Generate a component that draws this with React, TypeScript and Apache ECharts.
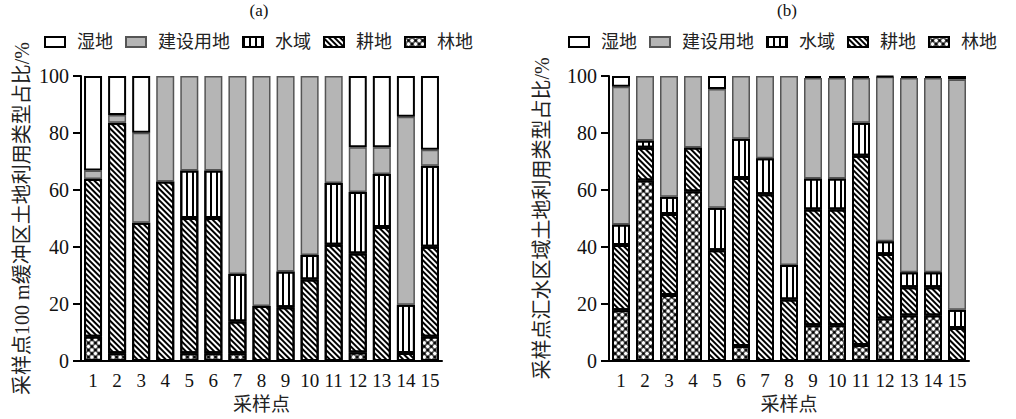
import React, { useEffect, useRef } from 'react';
import * as echarts from 'echarts';

const sites = ['1', '2', '3', '4', '5', '6', '7', '8', '9', '10', '11', '12', '13', '14', '15'];
const legendNames = ['湿地', '建设用地', '水域', '耕地', '林地'];

// (a) 100 m buffer
const forestA = [8.5, 2.7, 0, 0, 2.7, 2.7, 2.7, 0, 0, 0, 0, 3.0, 0, 0, 8.5];
const farmA = [55.4, 80.9, 48.5, 63.0, 47.5, 47.5, 11.2, 19.3, 18.9, 28.6, 40.8, 34.7, 47.0, 2.8, 31.6];
const waterA = [0, 0, 0, 0, 16.6, 16.6, 16.6, 0, 12.5, 8.6, 21.7, 21.6, 18.6, 16.9, 28.4];
const builtA = [2.9, 2.7, 31.6, 37.0, 33.2, 33.2, 69.5, 80.7, 68.6, 62.8, 37.5, 15.7, 9.4, 66.0, 5.6];
const wetA = [33.2, 13.7, 19.9, 0, 0, 0, 0, 0, 0, 0, 0, 25.0, 25.0, 14.3, 25.9];

// (b) catchment
const forestB = [17.8, 63.3, 23.2, 59.5, 0, 5.3, 0, 0, 12.5, 12.5, 5.6, 14.9, 16.0, 16.0, 0];
const farmB = [22.9, 11.5, 28.4, 15.4, 38.9, 58.9, 58.5, 21.6, 40.7, 40.7, 66.4, 22.6, 9.9, 9.9, 11.6];
const waterB = [7.2, 2.6, 6.0, 0, 14.9, 13.8, 12.6, 12.1, 10.8, 10.8, 11.6, 4.5, 5.2, 5.2, 6.4];
const builtB = [48.3, 22.6, 42.4, 25.1, 41.6, 22.0, 28.9, 66.3, 35.3, 35.3, 15.7, 57.7, 68.2, 68.2, 80.8];
const wetB = [3.8, 0, 0, 0, 4.6, 0, 0, 0, 0.7, 0.7, 0.7, 0.3, 0.7, 0.7, 1.2];

const yNames = ['采样点100 m缓冲区土地利用类型占比/%', '采样点汇水区域土地利用类型占比/%'];
const panelTitles = ['(a)', '(b)'];

const FONT = "'Liberation Serif', 'Noto Sans CJK SC', serif";

const styles: Record<string, any> = {
  湿地: { color: '#fff', borderColor: '#000', borderWidth: 2 },
  建设用地: { color: '#b5b5b5', borderColor: '#555', borderWidth: 1.5 },
  水域: {
    color: '#fff', borderColor: '#000', borderWidth: 2,
    decal: { symbol: 'rect', symbolSize: 1, color: '#000', dashArrayX: [1.6, 3.1], dashArrayY: [10, 0], rotation: 0 },
  },
  耕地: {
    color: '#fff', borderColor: '#000', borderWidth: 2,
    decal: { symbol: 'rect', symbolSize: 1, color: '#000', dashArrayX: [1, 0], dashArrayY: [1.3, 1.8], rotation: Math.PI / 4 },
  },
  林地: {
    color: '#000', borderColor: '#000', borderWidth: 2,
    decal: { symbol: 'circle', symbolSize: 0.82, color: '#fff', dashArrayX: [5, 0], dashArrayY: [5, 0], rotation: Math.PI / 4 },
  },
};

export default function App() {
  const ref = useRef<HTMLDivElement>(null);
  useEffect(() => {
    document.body.style.margin = '0';
    const chart = echarts.init(ref.current!, null, { renderer: 'svg' });
    const panels = [
      { 林地: forestA, 耕地: farmA, 水域: waterA, 建设用地: builtA, 湿地: wetA },
      { 林地: forestB, 耕地: farmB, 水域: waterB, 建设用地: builtB, 湿地: wetB },
    ];
    const stackOrder = ['林地', '耕地', '水域', '建设用地', '湿地'];
    const series: any[] = [];
    panels.forEach((p: any, i) => {
      stackOrder.forEach((name) => {
        series.push({
          type: 'bar',
          name,
          stack: 'panel' + i,
          xAxisIndex: i,
          yAxisIndex: i,
          barWidth: 18,
          data: p[name].map((v: number) => (v === 0 ? null : v)),
          itemStyle: styles[name],
          emphasis: { disabled: true },
        });
      });
    });
    const grids = [
      { left: 81, top: 76, width: 361, height: 287 },
      { left: 609, top: 76, width: 360, height: 287 },
    ];
    const option: any = {
      animation: false,
      grid: grids,
      legend: [0, 1].map((i) => ({
        data: legendNames,
        left: i === 0 ? 44 : 568,
        top: 33,
        width: 446,
        padding: 0,
        icon: 'rect',
        itemWidth: 20,
        itemHeight: 10,
        itemGap: 12,
        selectedMode: false,
        textStyle: { fontSize: 18, color: '#222', fontFamily: FONT, padding: [0, 0, 0, 7] },
      })),
      xAxis: [0, 1].map((i) => ({
        type: 'category',
        gridIndex: i,
        data: sites,
        axisLine: { lineStyle: { color: '#000', width: 2 } },
        axisTick: { alignWithLabel: true, length: 6, lineStyle: { color: '#000', width: 2 } },
        axisLabel: { interval: 0, margin: 10, fontSize: 19, color: '#111', fontFamily: FONT },
        name: '采样点',
        nameLocation: 'middle',
        nameGap: 34,
        nameTextStyle: { fontSize: 19, color: '#222', fontFamily: FONT },
      })),
      yAxis: [0, 1].map((i) => ({
        type: 'value',
        gridIndex: i,
        min: 0,
        max: 100,
        interval: 20,
        splitLine: { show: false },
        axisLine: { show: true, lineStyle: { color: '#000', width: 2 } },
        axisTick: { show: true, length: 8, lineStyle: { color: '#000', width: 2 } },
        axisLabel: { margin: 12, fontSize: 20, color: '#111', fontFamily: FONT },
        name: yNames[i],
        nameLocation: 'middle',
        nameGap: i === 0 ? 49 : 57,
        nameTextStyle: { fontSize: 20, color: '#222', fontFamily: FONT },
      })),
      graphic: panelTitles.map((t, i) => ({
        type: 'text',
        x: i === 0 ? 259 : 787,
        y: 10,
        style: { text: t, fontSize: 17, fontFamily: FONT, fill: '#111', textAlign: 'center', textVerticalAlign: 'middle' },
      })),
      series,
    };
    chart.setOption(option);
    return () => chart.dispose();
  }, []);
  return <div ref={ref} style={{ width: 1016, height: 419 }} />;
}
